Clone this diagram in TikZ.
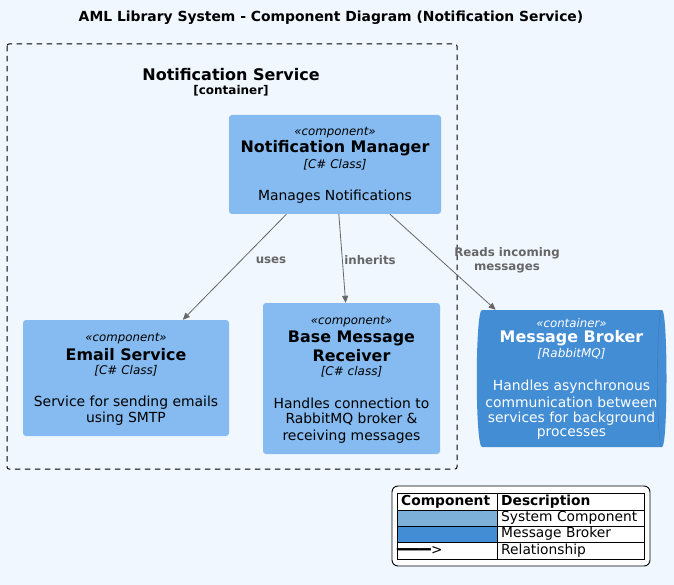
\documentclass[tikz,border=0pt]{standalone}
\usepackage{fontspec}
\setmainfont{DejaVu Sans}
\usetikzlibrary{arrows.meta}
\definecolor{bg}{HTML}{F0F7FF}
\definecolor{comp}{HTML}{85BBF0}
\definecolor{broker}{HTML}{438DD5}
\definecolor{legcomp}{HTML}{7DB0D8}
\definecolor{relgray}{HTML}{666666}
\definecolor{txt}{HTML}{000000}
\tikzset{
  box/.style={fill=comp, rounded corners=3pt, inner sep=0pt, draw=none},
  tx/.style={inner sep=0pt, align=center, text=txt},
  stereo/.style={tx, font=\fontsize{11.8}{13}\selectfont\itshape},
  ttl/.style={tx, font=\fontsize{15.9}{18}\selectfont\bfseries},
  tech/.style={tx, font=\fontsize{12}{13}\selectfont\itshape},
  desc/.style={tx, font=\fontsize{13.9}{16.5}\selectfont},
  rel/.style={draw=relgray, line width=0.8pt, -{Triangle[length=7pt,width=6pt]}},
  rellab/.style={inner sep=0pt, align=center, text=relgray, font=\fontsize{11.8}{14}\selectfont\bfseries},
  cell/.style={draw=black, line width=0.9pt, inner sep=0pt, anchor=north west},
  celltx/.style={inner sep=0pt, anchor=west, font=\fontsize{13.8}{15}\selectfont},
}
\begin{document}
\begin{tikzpicture}[x=1pt,y=-1pt]
\fill[bg] (0,0) rectangle (674,585);
\useasboundingbox (0,0) rectangle (674,585);

\node[tx, font=\fontsize{13.9}{16}\selectfont\bfseries] (title) at (331,18) {AML Library System - Component Diagram (Notification Service)};

% container boundary
\draw[dash pattern=on 5.5pt off 4.5pt, line width=1pt, rounded corners=2pt] (7,44) rectangle (457,469);
\node[tx, font=\fontsize{16}{18}\selectfont\bfseries] (cname) at (231,75) {Notification Service};
\node[tx, font=\fontsize{12}{13}\selectfont\bfseries] (ctype) at (231,91) {[container]};

% Notification Manager
\node[box, minimum width=212pt, minimum height=99pt] (nm) at (335,164.5) {};
\node[stereo] at (335,132.5) {«component»};
\node[ttl] at (335,148.5) {Notification Manager};
\node[tech] at (335,164.5) {[C\# Class]};
\node[desc] at (335,196.5) {Manages Notifications};

% Email Service
\node[box, minimum width=206pt, minimum height=116pt] (es) at (126,378) {};
\node[stereo] at (126,339) {«component»};
\node[ttl] at (126,354.5) {Email Service};
\node[tech] at (126,371) {[C\# Class]};
\node[desc] at (126,402.5) {Service for sending emails};
\node[desc] at (126,418.5) {using SMTP};

% Base Message Receiver
\node[box, minimum width=177pt, minimum height=151pt] (bmr) at (351.5,378.5) {};
\node[stereo] at (351.5,322) {«component»};
\node[ttl] at (351.5,338) {Base Message};
\node[ttl] at (351.5,356) {Receiver};
\node[tech] at (351.5,372) {[C\# class]};
\node[desc] at (351.5,403.5) {Handles connection to};
\node[desc] at (351.5,419.5) {RabbitMQ broker \&};
\node[desc] at (351.5,436.5) {receiving messages};

% Message Broker (queue)
\node[inner sep=0pt, minimum width=189pt, minimum height=137pt] (mb) at (571.5,378.5) {};
\fill[broker] (482,310) -- (662,310) .. controls (668,310) and (668,447) .. (662,447) -- (482,447) .. controls (475,447) and (475,310) .. (482,310) -- cycle;
\draw[draw=broker!85!black, line width=0.4pt] (662,310) .. controls (656,310) and (656,447) .. (662,447);
\node[stereo, text=white] at (571.5,323) {«container»};
\node[ttl, text=white] at (571.5,338) {Message Broker};
\node[tech, text=white] at (571.5,353.5) {[RabbitMQ]};
\node[desc, text=white] at (571.5,386.5) {Handles asynchronous};
\node[desc, text=white] at (571.5,402.5) {communication between};
\node[desc, text=white] at (571.5,418.5) {services for background};
\node[desc, text=white] at (571.5,434.5) {processes};

% relationships
\draw[rel] (nm) -- (es);
\draw[rel] (nm) -- (bmr);
\draw[rel] (nm) -- (mb);
\node[rellab] at (271,260) {uses};
\node[rellab] at (370,260) {inherits};
\node[rellab] at (507,260) {Reads incoming\\messages};

% legend
\draw[fill=white, line width=0.9pt, rounded corners=6pt] (392,486) rectangle (650,566);
\node[cell, minimum width=100pt, minimum height=17pt] (h1) at (397,493) {};
\node[cell, minimum width=147pt, minimum height=17pt] (h2) at (497,493) {};
\node[cell, minimum width=100pt, minimum height=16pt, fill=legcomp] (r1a) at (397,510) {};
\node[cell, minimum width=147pt, minimum height=16pt] (r1b) at (497,510) {};
\node[cell, minimum width=100pt, minimum height=16pt, fill=broker] (r2a) at (397,526) {};
\node[cell, minimum width=147pt, minimum height=16pt] (r2b) at (497,526) {};
\node[cell, minimum width=100pt, minimum height=17pt] (r3a) at (397,542) {};
\node[cell, minimum width=147pt, minimum height=17pt] (r3b) at (497,542) {};
\node[celltx, font=\fontsize{13.8}{15}\selectfont\bfseries] at (401,501.5) {Component};
\node[celltx, font=\fontsize{13.8}{15}\selectfont\bfseries] at (501,501.5) {Description};
\node[celltx] at (501,518) {System Component};
\node[celltx] at (501,534) {Message Broker};
\node[celltx] at (501,550.5) {Relationship};
\node[celltx] at (397,550.5) {\scalebox{1.35}[1]{\textbf{━━━}}>};
\end{tikzpicture}
\end{document}
